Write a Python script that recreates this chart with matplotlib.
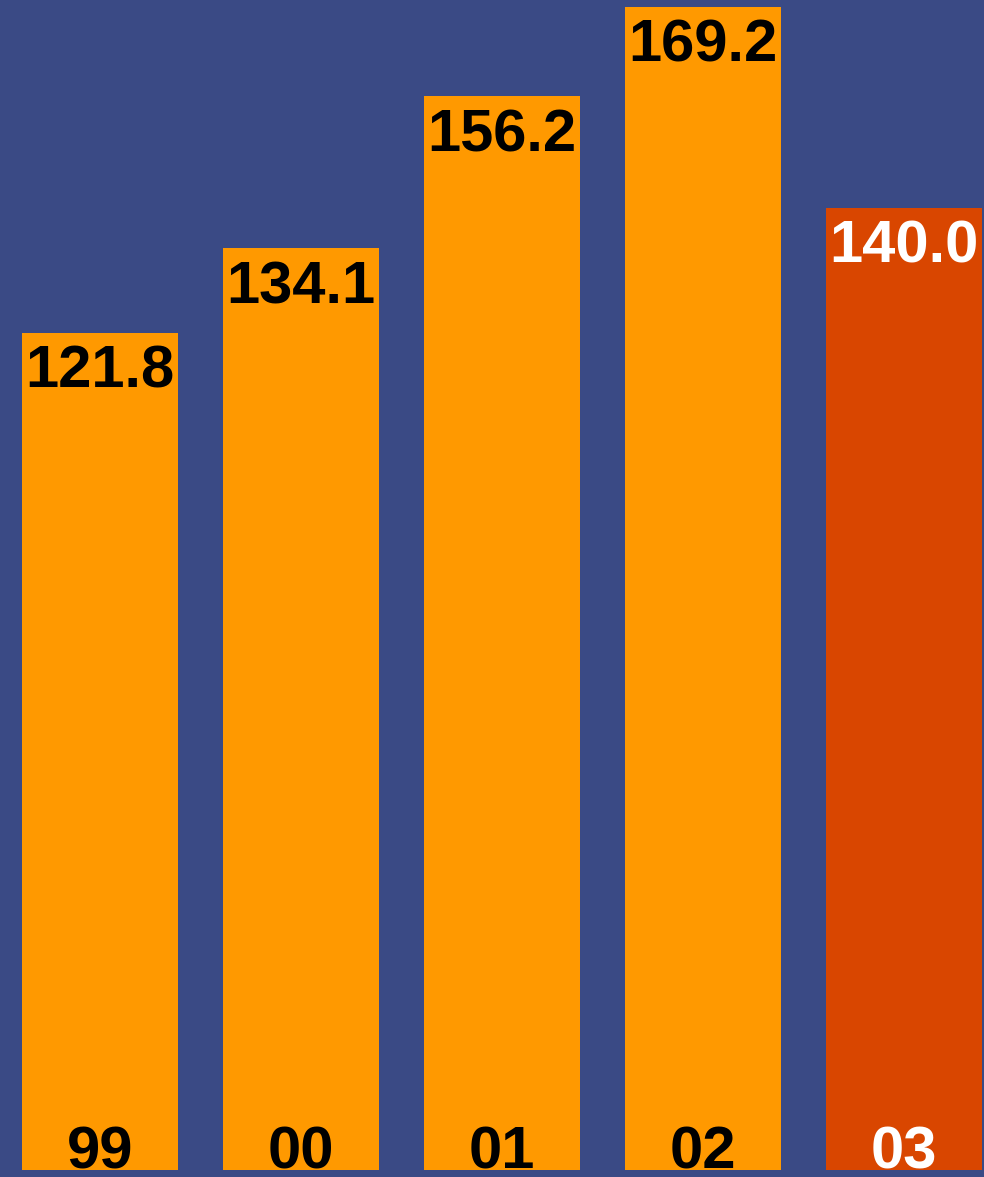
import matplotlib
matplotlib.use("Agg")
import matplotlib.pyplot as plt

# data
years = ["99", "00", "01", "02", "03"]
values = [121.8, 134.1, 156.2, 169.2, 140.0]
bar_colors = ["#FF9900", "#FF9900", "#FF9900", "#FF9900", "#D94600"]
text_colors = ["black", "black", "black", "black", "white"]

bg = "#3A4A85"

fig = plt.figure(figsize=(9.84, 11.77), dpi=100)
fig.patch.set_facecolor(bg)
ax = fig.add_axes([0, 0, 1, 1])
ax.set_facecolor(bg)

x = list(range(len(years)))
ax.bar(x, values, width=0.775, color=bar_colors)

for xi, v, tc, yr in zip(x, values, text_colors, years):
    ax.annotate(f"{v:.1f}", (xi, v), xytext=(0, -39.5), textcoords="offset points",
                ha="center", va="baseline", fontsize=43, fontweight="bold",
                family="Liberation Sans", color=tc)
    ax.text(xi, 0.2, yr, ha="center", va="baseline", fontsize=43,
            fontweight="bold", family="Liberation Sans", color=tc)

ax.set_xlim(-0.4975, 4.398)
ax.set_ylim(-1.02, 170.2)
ax.axis("off")

fig.savefig("out.png", dpi=100, facecolor=bg)
